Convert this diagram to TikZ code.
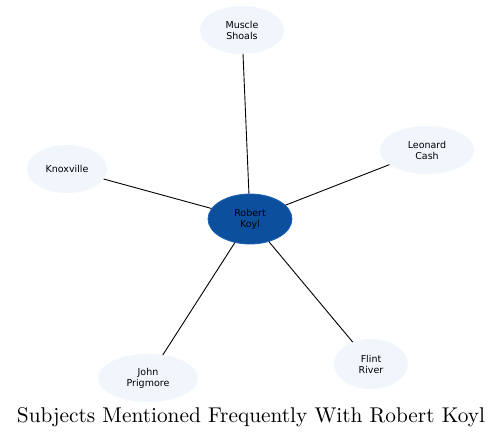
\documentclass[tikz,border=0pt]{standalone}
\usepackage{fontspec}
\newfontfamily\nodefont{DejaVu Sans}
\definecolor{hubfill}{HTML}{0B4F9D}
\definecolor{hubline}{HTML}{1D62B5}
\definecolor{leaffill}{HTML}{F1F6FD}
\tikzset{
  x=1bp, y=-1bp,
  hub/.style={ellipse, fill=hubfill, draw=hubline, line width=0.8bp, inner sep=0pt, font=\nodefont\fontsize{9.5bp}{11bp}\selectfont, align=center, text=black},
  leaf/.style={ellipse, fill=leaffill, draw=none, inner sep=0pt, font=\nodefont\fontsize{9.5bp}{11bp}\selectfont, align=center, text=black},
  link/.style={draw=black, line width=0.9bp}
}
\usetikzlibrary{shapes.geometric}
\begin{document}
\begin{tikzpicture}
\useasboundingbox (0,0) rectangle (503,439);
\fill[white] (0,0) rectangle (503,439);
\node[hub, minimum width=84bp, minimum height=50bp] (robert) at (250,219) {Robert\\Koyl};
\node[leaf, minimum width=84bp, minimum height=48bp] (muscle) at (242,30) {Muscle\\Shoals};
\node[leaf, minimum width=80bp, minimum height=48bp] (knox) at (67,169) {Knoxville};
\node[leaf, minimum width=94bp, minimum height=48bp] (leonard) at (427,150) {Leonard\\Cash};
\node[leaf, minimum width=100bp, minimum height=48bp] (john) at (148,378) {John\\Prigmore};
\node[leaf, minimum width=74bp, minimum height=50bp] (flint) at (371,364) {Flint\\River};
\draw[link] (robert) -- (muscle);
\draw[link] (robert) -- (knox);
\draw[link] (robert) -- (leonard);
\draw[link] (robert) -- (john);
\draw[link] (robert) -- (flint);
\node[inner sep=0pt] (title) at (251,417) {\resizebox{468bp}{!}{Subjects Mentioned Frequently With Robert Koyl}};
\end{tikzpicture}
\end{document}
